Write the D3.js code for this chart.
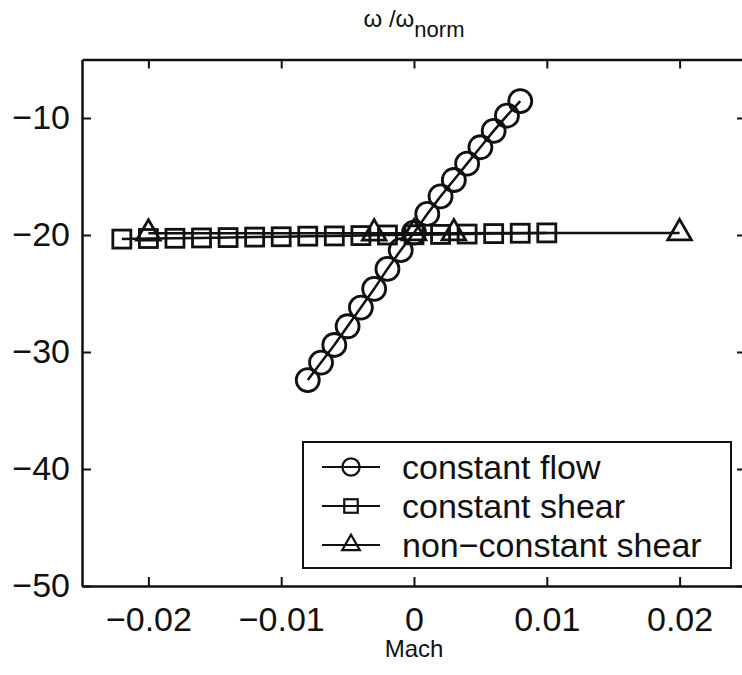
<!DOCTYPE html>
<html>
<head>
<meta charset="utf-8">
<script src="https://cdn.jsdelivr.net/npm/d3@7"></script>
<style>
    body { margin: 0; background: #fff; }
    svg { display: block; font-family: "Liberation Sans", Arial, sans-serif; }
    .tick text { font-size: 34px; }
</style>
</head>
<body>
<svg id="gfx" width="742" height="675"></svg>
<script>
// constant flow (circles)
const flowMach = [-0.008, -0.007, -0.006, -0.005, -0.004, -0.003, -0.002, -0.001, 0,
    0.001, 0.002, 0.003, 0.004, 0.005, 0.006, 0.007, 0.008];
const flowOmega = [-32.4, -30.9, -29.4, -27.8, -26.2, -24.6, -22.9, -21.3, -19.8,
    -18.2, -16.7, -15.3, -13.9, -12.5, -11.1, -9.8, -8.55];

// constant shear (squares)
const shearMach = [-0.022, -0.020, -0.018, -0.016, -0.014, -0.012, -0.010, -0.008, -0.006,
    -0.004, -0.002, 0, 0.002, 0.004, 0.006, 0.008, 0.010];
const shearOmega = [-20.35, -20.3, -20.28, -20.25, -20.22, -20.18, -20.15, -20.1, -20.08,
    -20.05, -20.0, -19.98, -19.95, -19.92, -19.88, -19.85, -19.82];

// non-constant shear (triangles)
const ncMach = [-0.02, -0.003, 0, 0.003, 0.02];
const ncOmega = [-19.86, -19.85, -19.84, -19.84, -19.83];

const xTicks = [-0.02, -0.01, 0, 0.01, 0.02];
const yTicks = [-50, -40, -30, -20, -10];
const legendLabels = ["constant flow", "constant shear", "non\u2212constant shear"];

const margin = { top: 59.5, right: -4, bottom: 89, left: 82 };
const width = 742, height = 675;
const ink = "#111";

const svg = d3.select("#gfx");
const x = d3.scaleLinear().domain([-0.025, 0.025]).range([margin.left, width - margin.right]);
const y = d3.scaleLinear().domain([-50, -5]).range([height - margin.bottom, margin.top]);

const fmt = d => d === 0 ? "0" : (d < 0 ? "\u2212" : "") + Math.abs(d).toString();

// axes: ticks drawn inward on all four sides
const tickLen = 9;
svg.append("g")
    .attr("transform", "translate(0," + y.range()[0] + ")")
    .call(d3.axisBottom(x).tickValues(xTicks).tickFormat(fmt).tickSizeInner(-tickLen).tickSizeOuter(0).tickPadding(21));
svg.append("g")
    .attr("transform", "translate(0," + y.range()[1] + ")")
    .call(d3.axisTop(x).tickValues(xTicks).tickFormat("").tickSizeInner(-tickLen).tickSizeOuter(0));
svg.append("g")
    .attr("transform", "translate(" + x.range()[0] + ",0)")
    .call(d3.axisLeft(y).tickValues(yTicks).tickFormat(fmt).tickSizeInner(-tickLen).tickSizeOuter(0).tickPadding(12));
svg.append("g")
    .attr("transform", "translate(" + x.range()[1] + ",0)")
    .call(d3.axisRight(y).tickValues(yTicks).tickFormat("").tickSizeInner(-tickLen).tickSizeOuter(0));

svg.selectAll(".domain").attr("stroke", ink).attr("stroke-width", 2.5);
svg.selectAll(".tick line").attr("stroke", ink).attr("stroke-width", 2);
svg.selectAll(".tick text").attr("fill", ink);

// title and x label
const title = svg.append("text")
    .attr("x", x(0))
    .attr("y", 27)
    .attr("text-anchor", "middle")
    .attr("font-size", 24)
    .attr("fill", ink);
title.append("tspan").text("\u03c9 /\u03c9");
title.append("tspan").attr("dy", 10).attr("font-size", 22).text("norm");

svg.append("text")
    .attr("x", x(0))
    .attr("y", 657)
    .attr("text-anchor", "middle")
    .attr("font-size", 24)
    .attr("fill", ink)
    .text("Mach");

// series
const series = [
    { mach: flowMach, omega: flowOmega, shape: "circle" },
    { mach: shearMach, omega: shearOmega, shape: "square" },
    { mach: ncMach, omega: ncOmega, shape: "triangle" }
];

const line = d3.line().x(d => x(d[0])).y(d => y(d[1]));

function drawMarker(g, shape, scale) {
    if (shape === "circle") {
        g.append("circle").attr("r", 11.5 * scale);
    } else if (shape === "square") {
        const s = 18 * scale;
        g.append("rect").attr("x", -s / 2).attr("y", -s / 2).attr("width", s).attr("height", s);
    } else {
        g.append("path").attr("d", d3.symbol(d3.symbolTriangle, 240 * scale * scale)());
    }
}

const plot = svg.append("g").attr("class", "plot");
series.forEach(s => {
    const pts = s.mach.map((m, i) => [m, s.omega[i]]);
    plot.append("path")
        .datum(pts)
        .attr("d", line)
        .attr("fill", "none")
        .attr("stroke", ink)
        .attr("stroke-width", 2.5);
    plot.selectAll(null)
        .data(pts)
        .enter()
        .append("g")
        .attr("transform", d => "translate(" + x(d[0]) + "," + y(d[1]) + ")")
        .each(function () { drawMarker(d3.select(this), s.shape, 1); })
        .selectAll("*")
        .attr("fill", "none")
        .attr("stroke", ink)
        .attr("stroke-width", 2.8);
});

// legend
const legend = svg.append("g").attr("transform", "translate(303,442)");
legend.append("rect")
    .attr("width", 428)
    .attr("height", 126)
    .attr("fill", "#fff")
    .attr("stroke", ink)
    .attr("stroke-width", 2);

const rows = legend.selectAll("g.row")
    .data(series)
    .enter()
    .append("g")
    .attr("class", "row")
    .attr("transform", (d, i) => "translate(0," + (25 + i * 39) + ")");

rows.append("line")
    .attr("x1", 19).attr("x2", 77)
    .attr("stroke", ink).attr("stroke-width", 2);

rows.append("g")
    .attr("transform", "translate(48,0)")
    .each(function (d) { drawMarker(d3.select(this), d.shape, 0.75); })
    .selectAll("*")
    .attr("fill", "none")
    .attr("stroke", ink)
    .attr("stroke-width", 2.2);

rows.append("text")
    .attr("x", 99)
    .attr("y", 12)
    .attr("font-size", 34)
    .attr("fill", ink)
    .text((d, i) => legendLabels[i]);
</script>
</body>
</html>
